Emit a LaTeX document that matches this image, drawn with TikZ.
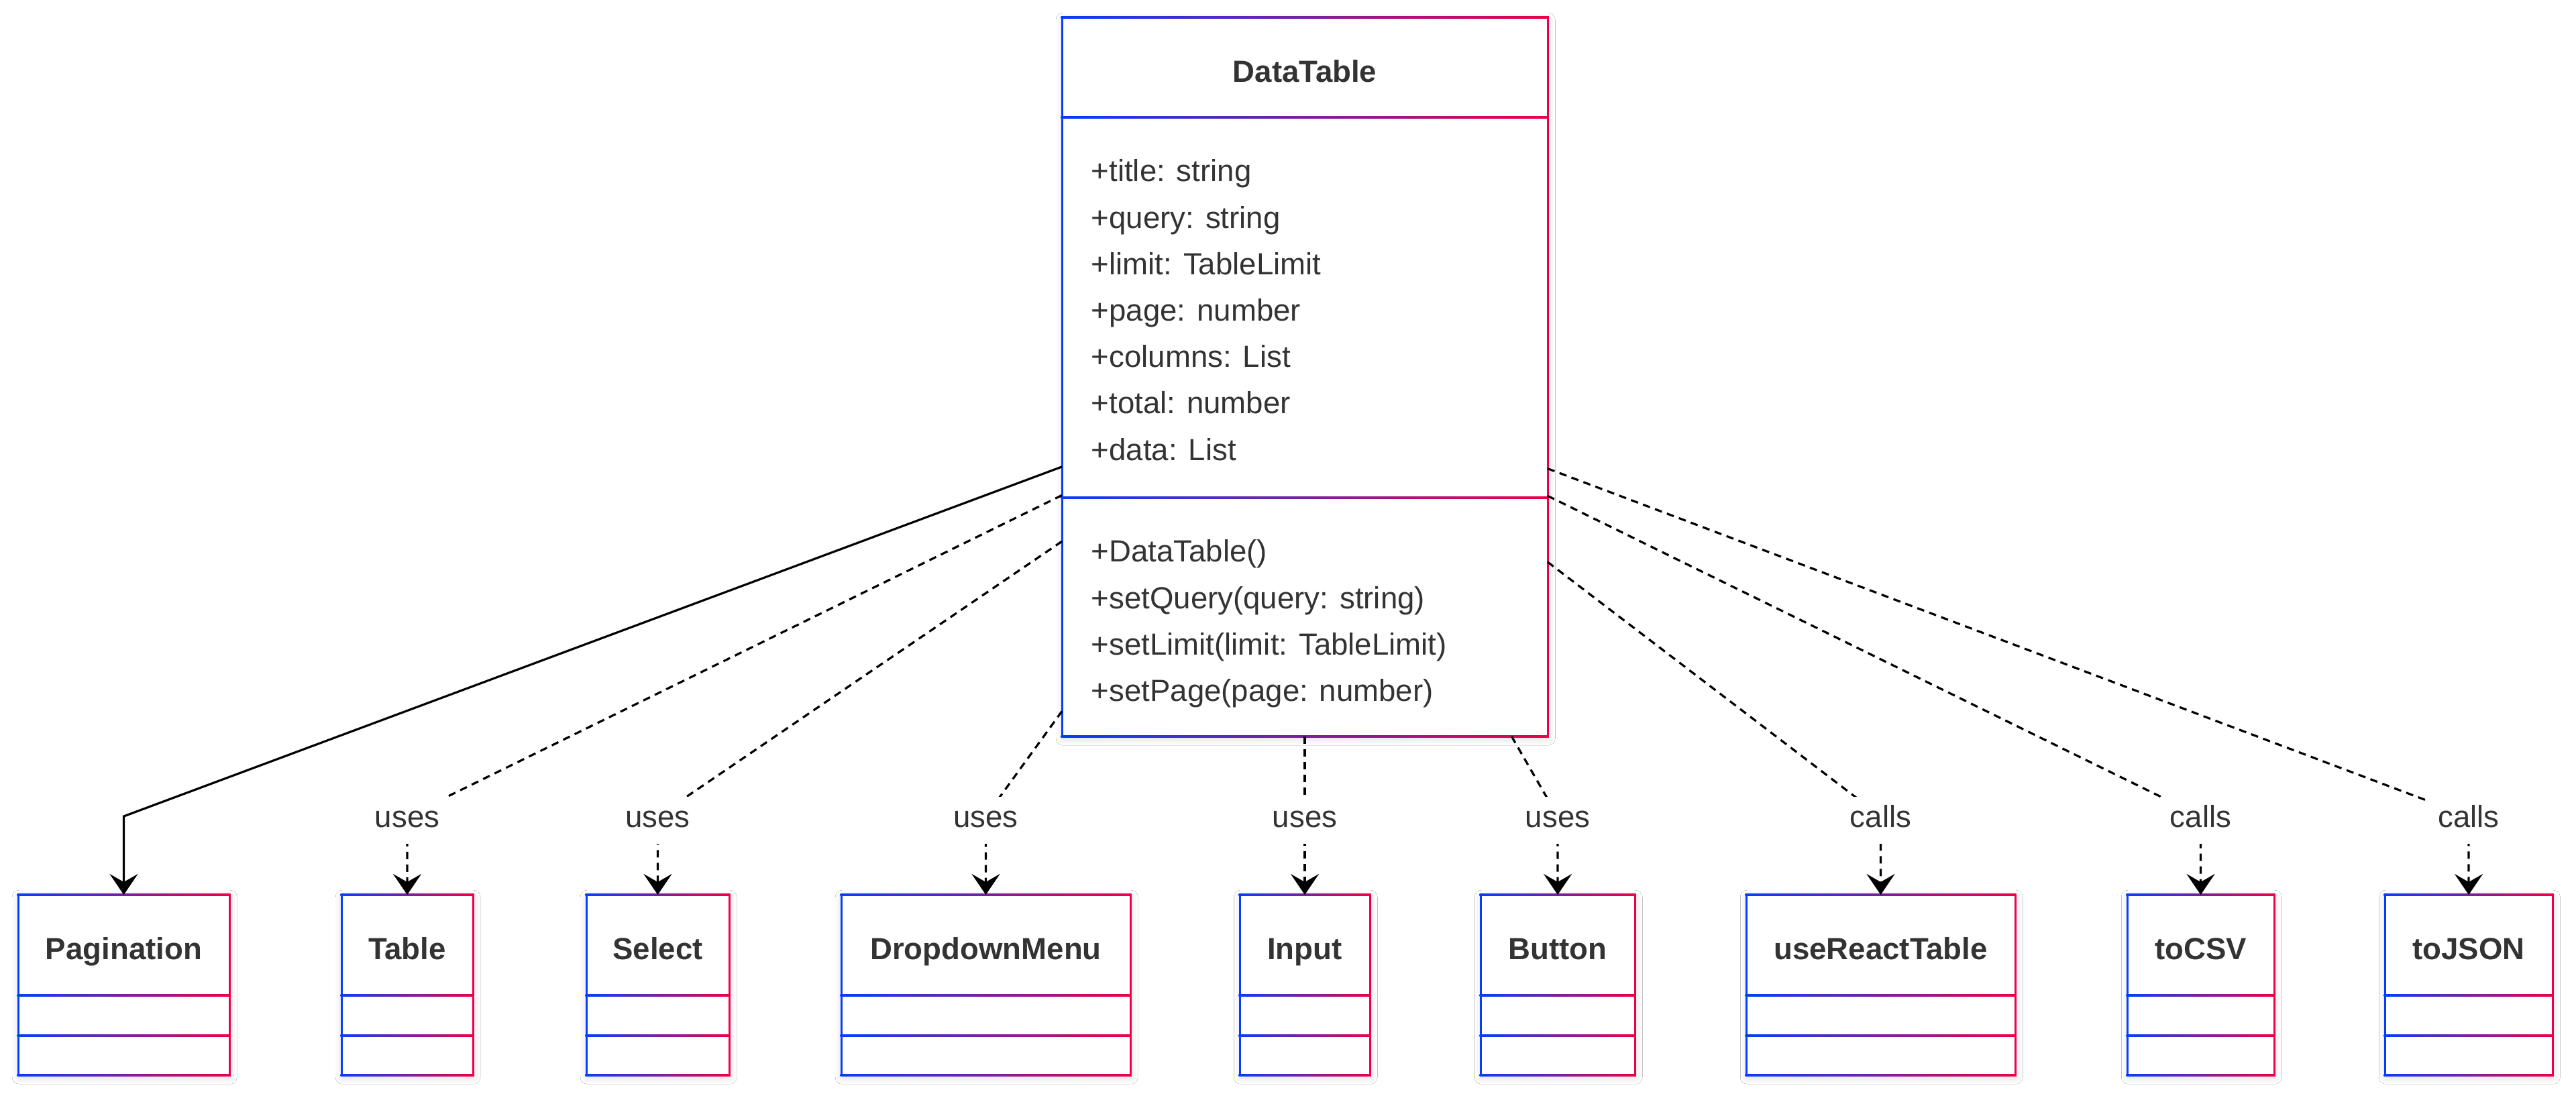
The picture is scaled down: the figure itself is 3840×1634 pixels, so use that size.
\documentclass[tikz,border=0pt]{standalone}
\usepackage{fontspec}
\setmainfont{Liberation Sans}
\usetikzlibrary{arrows.meta,shadows.blur}

\definecolor{edgeblue}{RGB}{5,62,250}
\definecolor{edgered}{RGB}{238,0,72}
\definecolor{ink}{RGB}{51,51,51}

% Frame of a class box: blue left side, red right side, blue-to-red horizontal rules.
% #1 left, #2 right, #3 top, #4 bottom, #5 list of compartment rules
\newcommand{\gradframe}[5]{%
  \foreach \yy in {#3,#4,#5}{%
    \shade[left color=edgeblue,right color=edgered]
      ({#1-1.5},{\yy-1.5}) rectangle ({#2+1.5},{\yy+1.5});
  }
  \fill[edgeblue] ({#1-1.5},{#3-1.5}) rectangle ({#1+1.5},{#4+1.5});
  \fill[edgered] ({#2-1.5},{#3-1.5}) rectangle ({#2+1.5},{#4+1.5});
}

% Class box: #1 name, #2 left, #3 right, #4 top, #5 bottom, #6 rules
\newcommand{\umlclass}[6]{%
  \node[classbox, minimum width={(#3-#2)*0.25pt}, minimum height={(#5-#4)*0.25pt}]
    (#1) at ({(#2+#3)/2},{(#4+#5)/2}) {};
  \gradframe{#2}{#3}{#4}{#5}{#6}
}

% Small class with an empty attribute and method compartment
\newcommand{\leafclass}[4]{% #1 name, #2 left, #3 right, #4 title
  \umlclass{#1}{#2}{#3}{1334}{1603}{1484,1544}
  \node[classname] (#1-title) at ({(#2+#3)/2},1416) {#4};
}

\tikzset{
  base font/.style={font=\fontsize{11.4pt}{13.7pt}\selectfont, text=ink},
  classbox/.style={rectangle, fill=white, draw=none, inner sep=0pt, outer sep=0pt,
    blur shadow={shadow xshift=0.3pt, shadow yshift=-0.8pt, shadow blur radius=2.5pt, shadow opacity=16}},
  classname/.style={base font, font=\fontsize{11.4pt}{13.7pt}\selectfont\bfseries,
    inner sep=0pt, text height=0.716em, text depth=0pt},
  member/.style={base font, inner sep=0pt, anchor=base west},
  rel/.style={base font, fill=white, inner sep=3.75pt, text height=0.75em, text depth=0.25em},
  tip/.style={-{Stealth[length=7.75pt,width=10.5pt,inset=3pt]}},
  assoc/.style={tip, line width=0.8pt, black, line join=miter},
  dep/.style={assoc, dash pattern=on 2.75pt off 2pt},
}

\begin{document}
\begin{tikzpicture}[x=0.25pt, y=-0.25pt]
  \useasboundingbox[fill=white] (0,0) rectangle (3840,1634);

  % Main class
  \umlclass{main}{1583}{2307}{26}{1098}{175,742}
  \node[classname] (main-title) at (1945,108) {DataTable};
  \foreach \t [count=\i] in {+title: string, +query: string, +limit: TableLimit,
      +page: number, +columns: List, +total: number, +data: List}
    \node[member] (attr\i) at (1626,{271+(\i-1)*69.2}) {\t};
  \foreach \t [count=\i] in {+DataTable(), +setQuery(query: string),
      +setLimit(limit: TableLimit), +setPage(page: number)}
    \node[member] (meth\i) at (1626,{838+(\i-1)*69.2}) {\t};

  % Collaborating classes
  \leafclass{pag}{27}{342}{Pagination}
  \leafclass{tbl}{509}{705}{Table}
  \leafclass{sel}{874}{1087}{Select}
  \leafclass{ddm}{1254}{1685}{DropdownMenu}
  \leafclass{inp}{1848}{2042}{Input}
  \leafclass{btn}{2207}{2437}{Button}
  \leafclass{urt}{2603}{3004}{useReactTable}
  \leafclass{csv}{3171}{3390}{toCSV}
  \leafclass{json}{3555}{3805}{toJSON}

  % Bend points of the relations
  \foreach \n/\x in {pag/184.5, tbl/607, sel/980.5, ddm/1469.5, inp/1945,
      btn/2322, urt/2803.5, csv/3280.5, json/3680}
    \coordinate (via-\n) at (\x,1217);

  % Relations
  \draw[assoc] (main) -- (via-pag) -- (pag.north);
  \foreach \n in {tbl, sel, ddm, inp, btn, urt, csv, json}
    \draw[dep] (main) -- (via-\n) -- (\n.north);

  % Relation labels
  \foreach \n in {tbl, sel, ddm, inp, btn}
    \node[rel, yshift=-1.6pt] (lab-\n) at (via-\n) {uses};
  \foreach \n in {urt, csv, json}
    \node[rel, yshift=-1.6pt] (lab-\n) at (via-\n) {calls};
\end{tikzpicture}
\end{document}
